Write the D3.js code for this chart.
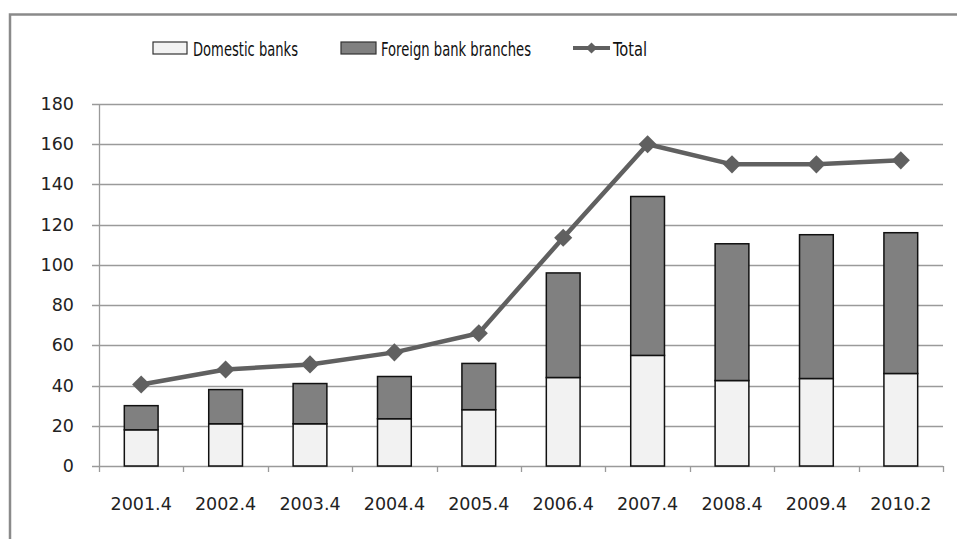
<!DOCTYPE html>
<html>
<head>
<meta charset="utf-8">
<script src="https://cdn.jsdelivr.net/npm/d3@7"></script>
<style>
  html, body { margin: 0; padding: 0; background: #fff; }
  svg { display: block; }
</style>
</head>
<body>
<div id="chart"></div>
<script>
// values
var categories = ["2001.4", "2002.4", "2003.4", "2004.4", "2005.4", "2006.4", "2007.4", "2008.4", "2009.4", "2010.2"];
var domestic = [18, 21, 21, 23.5, 28, 44, 55, 42.5, 43.5, 46];
var foreign = [12, 17, 20, 21, 23, 52, 79, 68, 71.5, 70];
var total = [40.5, 48, 50.5, 56.5, 66, 113.5, 160, 150, 150, 152];
var yTicks = [0, 20, 40, 60, 80, 100, 120, 140, 160, 180];

var W = 957, H = 539;
var m = {left: 99, right: 14, top: 104, bottom: 73};

var svg = d3.select("#chart").append("svg")
  .attr("width", W).attr("height", H);

// outer frame (only top and left show in the crop)
svg.append("path")
  .attr("d", "M10,539 L10,14.5 L957,14.5")
  .attr("fill", "none").attr("stroke", "#8a8a8a").attr("stroke-width", 2.5);

var x = d3.scaleBand().domain(categories).range([m.left, W - m.right]).paddingInner(0.6).paddingOuter(0.3);
var xTick = d3.scaleBand().domain(categories).range([m.left, W - m.right]);
var y = d3.scaleLinear().domain([0, 180]).range([H - m.bottom, m.top]);

// gridlines
svg.append("g").selectAll("line").data(yTicks).join("line")
  .attr("x1", m.left - 7).attr("x2", W - m.right)
  .attr("y1", function(d){ return Math.round(y(d)) + 0.5; })
  .attr("y2", function(d){ return Math.round(y(d)) + 0.5; })
  .attr("stroke", "#9a9a9a").attr("stroke-width", 1.3);

// y axis line
svg.append("line")
  .attr("x1", m.left + 0.5).attr("x2", m.left + 0.5)
  .attr("y1", y(180)).attr("y2", y(0))
  .attr("stroke", "#9a9a9a").attr("stroke-width", 1.3);

// y labels
svg.append("g").selectAll("text").data(yTicks).join("text")
  .attr("x", 74).attr("y", function(d){ return y(d) + 6; })
  .attr("text-anchor", "end")
  .attr("font-family", "DejaVu Sans").attr("font-size", "17.5px").attr("fill", "#222")
  .text(function(d){ return d; });

// x tick marks
var edges = categories.map(function(c){ return xTick(c); }).concat([W - m.right]);
svg.append("g").selectAll("line").data(edges).join("line")
  .attr("x1", function(d){ return Math.round(d) + 0.5; })
  .attr("x2", function(d){ return Math.round(d) + 0.5; })
  .attr("y1", y(0)).attr("y2", y(0) + 6)
  .attr("stroke", "#9a9a9a").attr("stroke-width", 1.3);

// x labels
svg.append("g").selectAll("text").data(categories).join("text")
  .attr("x", function(d){ return xTick(d) + xTick.bandwidth() / 2; })
  .attr("y", 510)
  .attr("text-anchor", "middle")
  .attr("font-family", "DejaVu Sans").attr("font-size", "17.5px").attr("fill", "#222")
  .text(function(d){ return d; });

// stacked bars
var bars = svg.append("g");
bars.selectAll("rect.dom").data(categories).join("rect")
  .attr("class", "dom")
  .attr("x", function(d){ return x(d); })
  .attr("width", x.bandwidth())
  .attr("y", function(d, i){ return y(domestic[i]); })
  .attr("height", function(d, i){ return y(0) - y(domestic[i]); })
  .attr("fill", "#f2f2f2").attr("stroke", "#111").attr("stroke-width", 1.5);
bars.selectAll("rect.for").data(categories).join("rect")
  .attr("class", "for")
  .attr("x", function(d){ return x(d); })
  .attr("width", x.bandwidth())
  .attr("y", function(d, i){ return y(domestic[i] + foreign[i]); })
  .attr("height", function(d, i){ return y(domestic[i]) - y(domestic[i] + foreign[i]); })
  .attr("fill", "#808080").attr("stroke", "#111").attr("stroke-width", 1.5);

// total line
var line = d3.line()
  .x(function(d, i){ return xTick(categories[i]) + xTick.bandwidth() / 2; })
  .y(function(d){ return y(d); });
svg.append("path").datum(total)
  .attr("d", line)
  .attr("fill", "none").attr("stroke", "#606060").attr("stroke-width", 4.5)
  .attr("stroke-linejoin", "round");
var diamond = d3.symbol().type(d3.symbolDiamond2).size(210);
svg.append("g").selectAll("path").data(total).join("path")
  .attr("d", diamond)
  .attr("transform", function(d, i){
    return "translate(" + (xTick(categories[i]) + xTick.bandwidth() / 2) + "," + y(d) + ")";
  })
  .attr("fill", "#606060");

// legend
var lg = svg.append("g");
lg.append("rect").attr("x", 153).attr("y", 42).attr("width", 34).attr("height", 12)
  .attr("fill", "#f2f2f2").attr("stroke", "#333").attr("stroke-width", 1.2);
lg.append("rect").attr("x", 341).attr("y", 42).attr("width", 35).attr("height", 12)
  .attr("fill", "#808080").attr("stroke", "#333").attr("stroke-width", 1.2);
lg.append("line").attr("x1", 573).attr("x2", 610).attr("y1", 48).attr("y2", 48)
  .attr("stroke", "#606060").attr("stroke-width", 4);
lg.append("path").attr("d", d3.symbol().type(d3.symbolDiamond2).size(80))
  .attr("transform", "translate(591.5,48)").attr("fill", "#606060");

var legendText = [
  {t: "Domestic banks", x: 193, w: 105},
  {t: "Foreign bank branches", x: 381, w: 150},
  {t: "Total", x: 613, w: 34}
];
lg.selectAll("text").data(legendText).join("text")
  .attr("x", function(d){ return d.x; }).attr("y", 55.5)
  .attr("font-family", "DejaVu Sans Condensed, DejaVu Sans").attr("font-size", "20px").attr("fill", "#111")
  .attr("textLength", function(d){ return d.w; })
  .attr("lengthAdjust", "spacingAndGlyphs")
  .text(function(d){ return d.t; });
</script>
</body>
</html>
